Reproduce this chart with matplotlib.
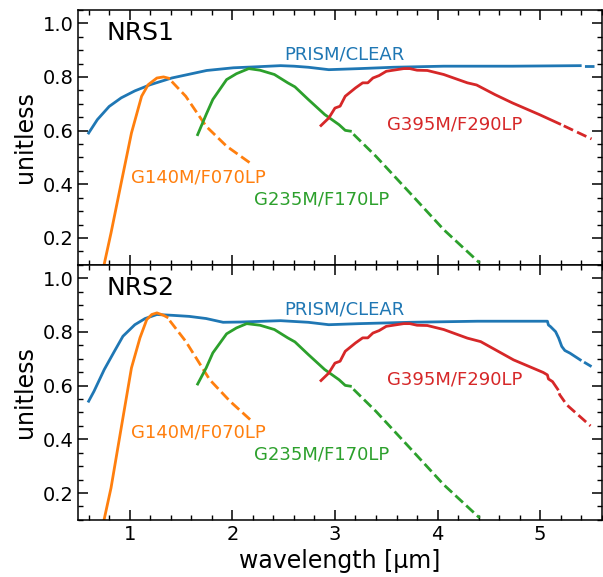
import matplotlib
matplotlib.use('Agg')
import matplotlib.pyplot as plt
import numpy as np

# --- NRS1 throughput curves (solid part, dashed part) ---
prism1_x = [0.60, 0.685, 0.80, 0.917, 1.05, 1.20, 1.41, 1.75, 2.01, 2.25, 2.47,
            2.60, 2.74, 2.94, 3.24, 3.57, 4.06, 4.73, 5.39]
prism1_y = [0.591, 0.641, 0.69, 0.722, 0.748, 0.771, 0.796, 0.824, 0.834, 0.838, 0.842,
            0.840, 0.836, 0.827, 0.831, 0.836, 0.840, 0.840, 0.842]
prism1_dx = [5.39, 5.52]
prism1_dy = [0.842, 0.842]

g140_1_x = [0.75, 0.818, 0.917, 1.017, 1.116, 1.18, 1.265, 1.33, 1.38]
g140_1_y = [0.10, 0.219, 0.405, 0.591, 0.728, 0.771, 0.796, 0.800, 0.795]
g140_1_dx = [1.38, 1.546, 1.745, 1.944, 2.175]
g140_1_dy = [0.795, 0.728, 0.616, 0.542, 0.479]

g235_1_x = [1.662, 1.745, 1.81, 1.944, 2.04, 2.16, 2.27, 2.41, 2.54, 2.61, 2.74,
            2.90, 3.04, 3.10, 3.15]
g235_1_y = [0.585, 0.660, 0.716, 0.790, 0.812, 0.831, 0.825, 0.809, 0.778, 0.763, 0.716,
            0.660, 0.622, 0.601, 0.598]
g235_1_dx = [3.15, 3.40, 3.73, 4.06, 4.41]
g235_1_dy = [0.598, 0.504, 0.368, 0.231, 0.107]

g395_1_x = [2.864, 2.94, 3.00, 3.05, 3.10, 3.20, 3.27, 3.32, 3.37, 3.43, 3.50, 3.67,
            3.73, 3.80, 3.90, 4.06, 4.29, 4.38, 4.56, 4.73, 4.99, 5.19]
g395_1_y = [0.619, 0.647, 0.684, 0.691, 0.728, 0.759, 0.778, 0.778, 0.796, 0.805, 0.821, 0.831,
            0.831, 0.825, 0.824, 0.809, 0.778, 0.770, 0.734, 0.703, 0.660, 0.625]
g395_1_dx = [5.19, 5.50]
g395_1_dy = [0.625, 0.569]

# --- NRS2 throughput curves ---
prism2_x = [0.60, 0.652, 0.752, 0.851, 0.934, 1.05, 1.15, 1.265, 1.414, 1.58, 1.745,
            1.91, 2.08, 2.47, 2.74, 2.94, 3.24, 3.73, 4.39, 5.07, 5.08, 5.10, 5.15,
            5.18, 5.21, 5.24, 5.29, 5.39]
prism2_y = [0.542, 0.579, 0.660, 0.728, 0.784, 0.827, 0.850, 0.865, 0.862, 0.858, 0.850,
            0.836, 0.837, 0.842, 0.836, 0.827, 0.831, 0.836, 0.840, 0.840, 0.826, 0.820, 0.801,
            0.777, 0.746, 0.731, 0.721, 0.696]
prism2_dx = [5.39, 5.50]
prism2_dy = [0.696, 0.671]

g140_2_x = [0.75, 0.818, 0.917, 1.017, 1.10, 1.166, 1.215, 1.265, 1.33, 1.364]
g140_2_y = [0.10, 0.219, 0.442, 0.666, 0.778, 0.846, 0.865, 0.871, 0.862, 0.855]
g140_2_dx = [1.364, 1.546, 1.78, 1.977, 2.175]
g140_2_dy = [0.855, 0.765, 0.622, 0.542, 0.473]

g235_2_x = [1.662, 1.745, 1.81, 1.944, 2.04, 2.14, 2.27, 2.41, 2.54, 2.61, 2.74,
            2.90, 3.04, 3.10, 3.15]
g235_2_y = [0.606, 0.666, 0.722, 0.793, 0.815, 0.831, 0.825, 0.809, 0.778, 0.763, 0.716,
            0.660, 0.622, 0.601, 0.598]
g235_2_dx = [3.15, 3.40, 3.73, 4.06, 4.41]
g235_2_dy = [0.598, 0.504, 0.368, 0.231, 0.107]

g395_2_x = [2.864, 2.94, 3.00, 3.05, 3.10, 3.20, 3.27, 3.32, 3.37, 3.43, 3.50, 3.67,
            3.73, 3.80, 3.90, 4.06, 4.29, 4.42, 4.74, 5.03, 5.07, 5.08, 5.12, 5.17]
g395_2_y = [0.619, 0.647, 0.684, 0.691, 0.728, 0.759, 0.778, 0.778, 0.796, 0.805, 0.821, 0.831,
            0.831, 0.825, 0.824, 0.809, 0.777, 0.764, 0.696, 0.649, 0.640, 0.625, 0.615, 0.587]
g395_2_dx = [5.17, 5.19, 5.26, 5.49]
g395_2_dy = [0.587, 0.566, 0.528, 0.450]

detectors = ['NRS1', 'NRS2']
names = ['PRISM/CLEAR', 'G140M/F070LP', 'G235M/F170LP', 'G395M/F290LP']
colors = ['tab:blue', 'tab:orange', 'tab:green', 'tab:red']
label_pos = [(2.507, 0.883), (1.01, 0.426), (2.21, 0.343), (3.51, 0.622)]

curves = {
    'NRS1': [(prism1_x, prism1_y, prism1_dx, prism1_dy),
             (g140_1_x, g140_1_y, g140_1_dx, g140_1_dy),
             (g235_1_x, g235_1_y, g235_1_dx, g235_1_dy),
             (g395_1_x, g395_1_y, g395_1_dx, g395_1_dy)],
    'NRS2': [(prism2_x, prism2_y, prism2_dx, prism2_dy),
             (g140_2_x, g140_2_y, g140_2_dx, g140_2_dy),
             (g235_2_x, g235_2_y, g235_2_dx, g235_2_dy),
             (g395_2_x, g395_2_y, g395_2_dx, g395_2_dy)],
}

# dashed extension starts with a gap right after the solid part
dash_style = (3.7, (3.7, 1.6))

fig, axes = plt.subplots(2, 1, sharex=True, figsize=(6.03, 5.77), dpi=100)
fig.subplots_adjust(left=0.130, right=0.998, top=0.983, bottom=0.099, hspace=0)

for ax, det in zip(axes, detectors):
    for (x, y, dx, dy), c, name, (tx, ty) in zip(curves[det], colors, names, label_pos):
        ax.plot(x, y, '-', color=c, lw=2)
        ax.plot(dx, dy, color=c, lw=2, linestyle=dash_style)
        ax.text(tx, ty, name, color=c, fontsize=13, va='center', ha='left')
    ax.text(0.77, 0.964, det, fontsize=18, va='center', ha='left')
    ax.set_xlim(0.5, 5.6)
    ax.set_ylim(0.1, 1.05)
    ax.set_yticks([0.2, 0.4, 0.6, 0.8, 1.0])
    ax.set_xticks([1, 2, 3, 4, 5])
    ax.minorticks_on()
    ax.yaxis.set_minor_locator(matplotlib.ticker.MultipleLocator(0.05))
    ax.xaxis.set_minor_locator(matplotlib.ticker.MultipleLocator(0.2))
    ax.tick_params(which='both', direction='in', top=True, right=True, labelsize=14)
    ax.tick_params(which='major', length=7, width=1.1)
    ax.tick_params(which='minor', length=3.5, width=1.0)
    for s in ax.spines.values():
        s.set_linewidth(1.1)
    ax.set_ylabel('unitless', fontsize=17)

axes[1].set_xlabel('wavelength [µm]', fontsize=17)
plt.savefig('out.png', dpi=100)
